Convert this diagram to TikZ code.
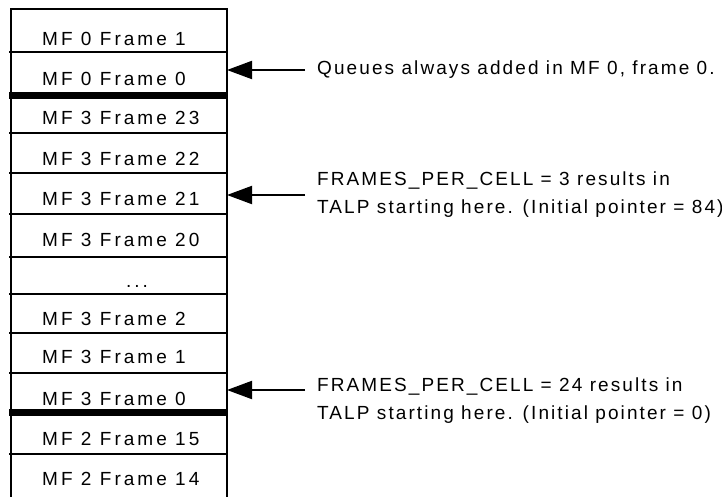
\documentclass[tikz,border=0pt]{standalone}
\usepackage{fontspec}
\setmainfont{Liberation Sans}[LetterSpace=11]
\newfontfamily\rowfont{Liberation Sans}[LetterSpace=16]
\usetikzlibrary{arrows.meta}
\begin{document}
\begin{tikzpicture}[x=1pt,y=-1pt,
  rowtxt/.style={anchor=base west,inner sep=0pt,font=\rowfont\fontsize{19}{19}\selectfont},
  note/.style={anchor=west,inner xsep=12pt,inner ysep=0pt,align=left,font=\fontsize{19}{28}\selectfont},
  sep/.style={line width=2pt},
  bar/.style={line width=7pt},
  arr/.style={line width=2pt,-{Triangle[length=25pt,width=18pt]}}]
\useasboundingbox (0,0) rectangle (722,497);
\coordinate (colL) at (11,0);
\coordinate (colR) at (227,0);
% column outline
\draw[sep] (11,497) -- (11,9) -- (227,9) -- (227,497);
% separators
\foreach \y in {52,133,173,214,257,294,333,373,454}
  \draw[sep] (9,\y) -- (227,\y);
\foreach \y in {96,412}
  \draw[bar] (9,\y) -- (228,\y);
% rows
\node[rowtxt] (r1) at (42,46) {MF 0 Frame 1};
\node[rowtxt] (r2) at (42,86) {MF 0 Frame 0};
\node[rowtxt] (r3) at (42,125) {MF 3 Frame 23};
\node[rowtxt] (r4) at (42,166) {MF 3 Frame 22};
\node[rowtxt] (r5) at (42,205) {MF 3 Frame 21};
\node[rowtxt] (r6) at (42,246) {MF 3 Frame 20};
\node[rowtxt,anchor=base] (r7) at (137,287) {...};
\node[rowtxt] (r8) at (42,325) {MF 3 Frame 2};
\node[rowtxt] (r9) at (42,363) {MF 3 Frame 1};
\node[rowtxt] (r10) at (42,405) {MF 3 Frame 0};
\node[rowtxt] (r11) at (42,445) {MF 2 Frame 15};
\node[rowtxt] (r12) at (42,485) {MF 2 Frame 14};
% notes
\node[note] (n1) at (305,70) {Queues always added in MF 0, frame 0.};
\node[note] (n2) at (305,195) {FRAMES\_PER\_CELL = 3 results in\\TALP starting here. (Initial pointer = 84)};
\node[note] (n3) at (305,401) {FRAMES\_PER\_CELL = 24 results in\\TALP starting here. (Initial pointer = 0)};
% arrows
\draw[arr] (n1.west) -- (n1.west -| colR);
\draw[arr] (n2.west) -- (n2.west -| colR);
\draw[arr] ([yshift=11pt]n3.west) -- ([yshift=11pt]n3.west -| colR);
\end{tikzpicture}
\end{document}
